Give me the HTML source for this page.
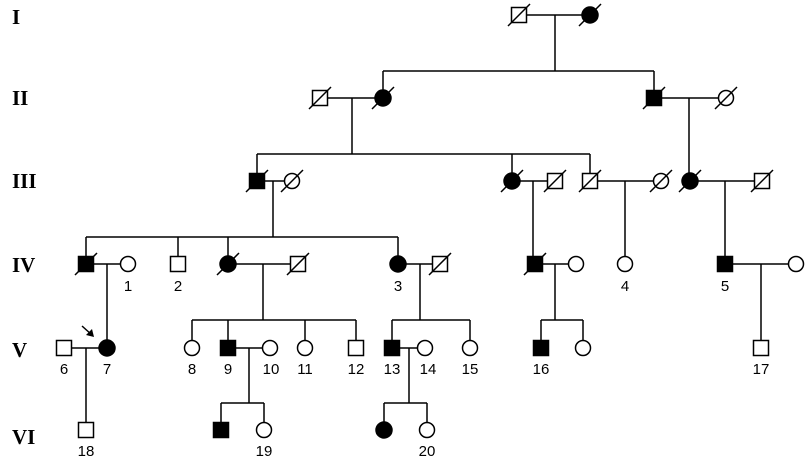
<!DOCTYPE html>
<html><head><meta charset="utf-8"><style>
html,body{margin:0;padding:0;background:#fff;width:810px;height:468px;overflow:hidden}
svg{display:block}
.l{stroke:#000;stroke-width:1.5;fill:none}
.o{stroke:#000;stroke-width:1.5;fill:#fff}
.f{stroke:#000;stroke-width:1.5;fill:#000}
.g{font-family:"Liberation Serif",serif;font-weight:bold;font-size:21px}
.n{font-family:"Liberation Sans",sans-serif;font-size:15px;text-anchor:middle}
</style></head><body>
<svg width="810" height="468" viewBox="0 0 810 468">
<text class="g" x="12" y="24">I</text>
<text class="g" x="12" y="105">II</text>
<text class="g" x="12" y="188">III</text>
<text class="g" x="12" y="272">IV</text>
<text class="g" x="12" y="357">V</text>
<text class="g" x="12" y="444">VI</text>

<!-- lines -->
<g class="l">
<path d="M519 15H590M555 15V71M383 71H654M383 71V98M654 71V98"/>
<path d="M320 98H383M352 98V154M257 154H590M257 154V181M512 154V181M590 154V181"/>
<path d="M654 98H726M689 98V181"/>
<path d="M257 181H292M273 181V237M86 237H398M86 237V264M178 237V264M228 237V264M398 237V264"/>
<path d="M512 181H555M533 181V264M590 181H661M625 181V264M690 181H762M725 181V264"/>
<path d="M86 264H128M107 264V348M228 264H298M263 264V320M192 320H356M192 320V348M228 320V348M305 320V348M356 320V348"/>
<path d="M398 264H440M420 264V320M392 320H470M392 320V348M470 320V348"/>
<path d="M535 264H576M555 264V320M541 320H583M541 320V348M583 320V348"/>
<path d="M725 264H796M761 264V348"/>
<path d="M64 348H107M86 348V430"/>
<path d="M228 348H270M249 348V403M221 403H264M221 403V430M264 403V430"/>
<path d="M392 348H425M409 348V403M384 403H427M384 403V430M427 403V430"/>
</g>

<!-- Gen I -->
<rect class="o" x="511.5" y="7.5" width="15" height="15"/>
<circle class="f" cx="590" cy="15" r="8"/>
<!-- Gen II -->
<rect class="o" x="312.5" y="90.5" width="15" height="15"/>
<circle class="f" cx="383" cy="98" r="8"/>
<rect class="f" x="646.5" y="90.5" width="15" height="15"/>
<circle class="o" cx="726" cy="98" r="7.5"/>
<!-- Gen III -->
<rect class="f" x="249.5" y="173.5" width="15" height="15"/>
<circle class="o" cx="292" cy="181" r="7.5"/>
<circle class="f" cx="512" cy="181" r="8"/>
<rect class="o" x="547.5" y="173.5" width="15" height="15"/>
<rect class="o" x="582.5" y="173.5" width="15" height="15"/>
<circle class="o" cx="661" cy="181" r="7.5"/>
<circle class="f" cx="690" cy="181" r="8"/>
<rect class="o" x="754.5" y="173.5" width="15" height="15"/>
<!-- Gen IV -->
<rect class="f" x="78.5" y="256.5" width="15" height="15"/>
<circle class="o" cx="128" cy="264" r="7.5"/>
<rect class="o" x="170.5" y="256.5" width="15" height="15"/>
<circle class="f" cx="228" cy="264" r="8"/>
<rect class="o" x="290.5" y="256.5" width="15" height="15"/>
<circle class="f" cx="398" cy="264" r="8"/>
<rect class="o" x="432.5" y="256.5" width="15" height="15"/>
<rect class="f" x="527.5" y="256.5" width="15" height="15"/>
<circle class="o" cx="576" cy="264" r="7.5"/>
<circle class="o" cx="625" cy="264" r="7.5"/>
<rect class="f" x="717.5" y="256.5" width="15" height="15"/>
<circle class="o" cx="796" cy="264" r="7.5"/>
<!-- Gen V -->
<rect class="o" x="56.5" y="340.5" width="15" height="15"/>
<circle class="f" cx="107" cy="348" r="8"/>
<circle class="o" cx="192" cy="348" r="7.5"/>
<rect class="f" x="220.5" y="340.5" width="15" height="15"/>
<circle class="o" cx="270" cy="348" r="7.5"/>
<circle class="o" cx="305" cy="348" r="7.5"/>
<rect class="o" x="348.5" y="340.5" width="15" height="15"/>
<rect class="f" x="384.5" y="340.5" width="15" height="15"/>
<circle class="o" cx="425" cy="348" r="7.5"/>
<circle class="o" cx="470" cy="348" r="7.5"/>
<rect class="f" x="533.5" y="340.5" width="15" height="15"/>
<circle class="o" cx="583" cy="348" r="7.5"/>
<rect class="o" x="753.5" y="340.5" width="15" height="15"/>
<!-- Gen VI -->
<rect class="o" x="78.5" y="422.5" width="15" height="15"/>
<rect class="f" x="213.5" y="422.5" width="15" height="15"/>
<circle class="o" cx="264" cy="430" r="7.5"/>
<circle class="f" cx="384" cy="430" r="8"/>
<circle class="o" cx="427" cy="430" r="7.5"/>

<!-- deceased slashes -->
<g class="l">
<path d="M508 26L530 4M579 26L601 4"/>
<path d="M309 109L331 87M372 109L394 87M643 109L665 87M715 109L737 87"/>
<path d="M246 192L268 170M281 192L303 170M501 192L523 170M544 192L566 170M579 192L601 170M650 192L672 170M679 192L701 170M751 192L773 170"/>
<path d="M75 275L97 253M217 275L239 253M287 275L309 253M429 275L451 253M524 275L546 253"/>
</g>
<!-- arrow -->
<path class="l" d="M82 326L92 335"/>
<path d="M94 337L86 335L92 329Z" fill="#000"/>

<!-- numbers -->
<g class="n">
<text x="128" y="291">1</text><text x="178" y="291">2</text><text x="398" y="291">3</text>
<text x="625" y="291">4</text><text x="725" y="291">5</text>
<text x="64" y="374">6</text><text x="107" y="374">7</text><text x="192" y="374">8</text>
<text x="228" y="374">9</text><text x="271" y="374">10</text><text x="305" y="374">11</text>
<text x="356" y="374">12</text><text x="392" y="374">13</text><text x="428" y="374">14</text>
<text x="470" y="374">15</text><text x="541" y="374">16</text><text x="761" y="374">17</text>
<text x="86" y="456">18</text><text x="264" y="456">19</text><text x="427" y="456">20</text>
</g>
</svg>
</body></html>
